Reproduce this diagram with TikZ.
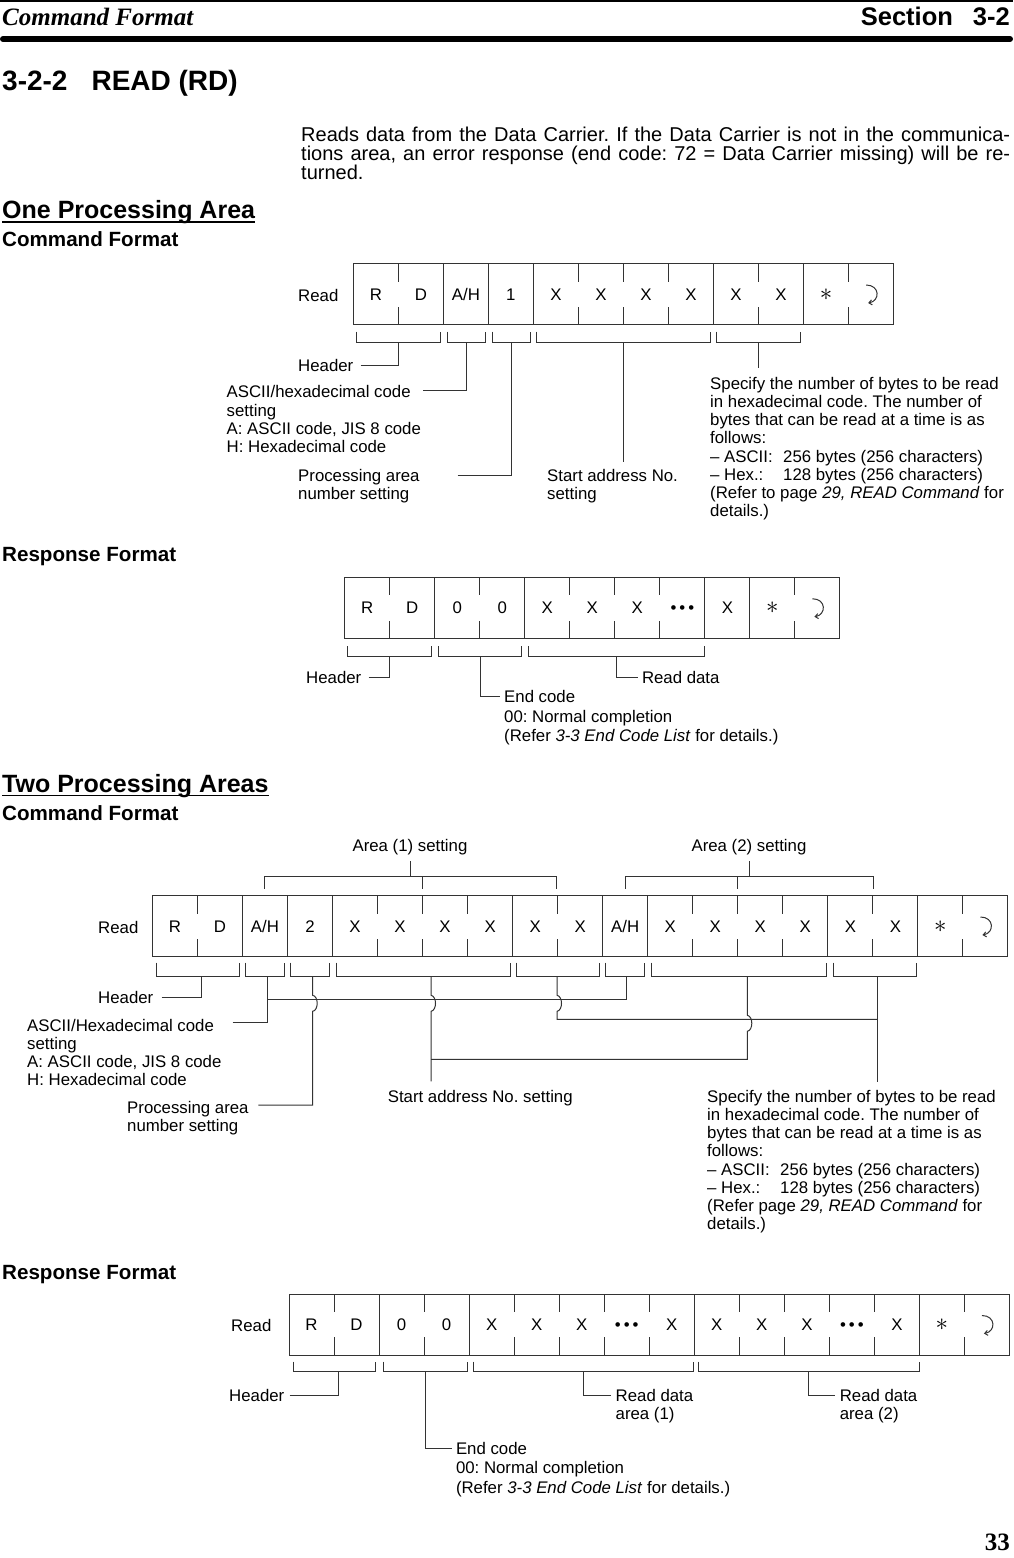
\documentclass[tikz,border=0pt]{standalone}
\usepackage{fontspec}
\setmainfont{Liberation Sans}
\newfontfamily\titleserif{Liberation Serif}
\usetikzlibrary{arrows.meta,calc}
\newcommand\AH{A/H}
\newcommand\Ast{{\fontsize{26}{26}\selectfont$\ast$}}
\newcommand\Dots{\textbullet\hspace{3pt}\textbullet\hspace{3pt}\textbullet}
\tikzset{
  ln/.style={line width=1pt,draw=black!80},
  cell/.style={font=\fontsize{16.8}{18}\selectfont,inner sep=0pt,text height=12pt,text depth=0pt},
  lbl/.style={font=\fontsize{16.8}{18.2}\selectfont,inner sep=0pt,align=left},
  lblw/.style={lbl,anchor=west,text height=12pt,text depth=0pt},
  lblnw/.style={lbl,anchor=north west},
  endblk/.style={font=\fontsize{16.8}{19.2}\selectfont,inner sep=0pt,align=left,anchor=north west},
  head/.style={font=\bfseries\fontsize{25}{28}\selectfont,inner sep=0pt,anchor=base west},
  subhead/.style={font=\bfseries\fontsize{20.6}{24}\selectfont,inner sep=0pt,anchor=base west},
  retarr/.style={ln,-{Straight Barb[length=3pt,width=5pt]}},
}
% prefix, x0, ytop, ybot, number of cells, list label/separator (1 full, 0 tick, 2 none)
\newcommand\cellrow[6]{%
  \draw[ln] (#2,#3) rectangle ({#2+45.03*#5},#4);
  \foreach \lab/\septype [count=\i] in {#6}{%
    \pgfmathsetmacro\xa{#2+45.03*(\i-1)}%
    \pgfmathsetmacro\xb{#2+45.03*\i}%
    \node[cell] (#1\i) at ({(\xa+\xb)/2},{(#3+#4)/2}) {\lab};%
    \ifnum\septype=1 \draw[ln] (\xb,#3) -- (\xb,#4);\fi
    \ifnum\septype=0 \draw[ln] (\xb,#3) -- ++(0,18) (\xb,#4) -- ++(0,-18);\fi
  }%
}
\newcommand\brk[4]{\draw[ln] (#1,#3) |- (#2,#4) -- (#2,#3);}
\newcommand\retarrow[1]{\draw[retarr] ($(#1)+(-5,-9)$) .. controls ($(#1)+(9,-9)$) and ($(#1)+(9,7)$) .. ($(#1)+(-3,9)$);}
\newcommand\bump[1]{-- ($(#1)+(0,-4)$) .. controls ($(#1)+(6,-3)$) and ($(#1)+(6,11)$) .. ($(#1)+(0,12)$)}
\begin{document}
\frenchspacing
\begin{tikzpicture}[x=1pt,y=-1pt]
\useasboundingbox (0,0) rectangle (1013,1558);
\fill[white] (0,0) rectangle (1013,1558);
% page header
\draw[line width=1.5pt] (0,1) -- (1013,1);
\node[font=\titleserif\bfseries\itshape\fontsize{25}{26}\selectfont,anchor=base west,inner sep=0pt] (pghead) at (2,25) {Command Format};
\node[font=\bfseries\fontsize{25.5}{27}\selectfont,anchor=base east,inner sep=0pt] (sect) at (1010,25) {Section\hspace{20pt}3-2};
\draw[line width=6pt,line cap=round] (3,39) -- (1010,39);
\node[font=\bfseries\fontsize{28}{30}\selectfont,anchor=base west,inner sep=0pt] (title) at (2,90) {3-2-2\hspace{24pt}READ (RD)};
\node[font=\fontsize{20}{19}\selectfont,anchor=north west,inner sep=0pt,align=left] (para) at (301,127) {\makebox[709pt][s]{Reads data from the Data Carrier. If the Data Carrier is not in the communica-}\\\makebox[709pt][s]{tions area, an error response (end code: 72 = Data Carrier missing) will be re-}\\turned.};
% ---------------- One processing area
\node[head] (h1) at (2,218.3) {One Processing Area};
\draw[line width=1.8pt] ([yshift=-3.5pt]h1.base west) -- ([yshift=-3.5pt]h1.base east);
\node[subhead] (h1c) at (2,246) {Command Format};
\cellrow{a-}{353.3}{263.5}{324.5}{12}{R/0,D/1,\AH/1,1/1,X/0,X/0,X/0,X/1,X/0,X/1,\Ast/0,{}/2}
\retarrow{a-12}
\node[lblw] (a-read) at (298,295) {Read};
\brk{356.5}{440.5}{331.5}{342}
\brk{447}{485}{331.5}{342}
\brk{492}{530}{331.5}{342}
\brk{536.5}{710}{331.5}{342}
\brk{716.5}{800}{331.5}{342}
\coordinate (a-s1) at (398.5,342);
\coordinate (a-s2) at (466,342);
\coordinate (a-s3) at (511,342);
\coordinate (a-s4) at (623.3,342);
\coordinate (a-s5) at (758.3,342);
\node[lblw] (a-hdr) at (298,365) {Header};
\draw[ln] ([xshift=7pt]a-hdr.east) -| (a-s1);
\node[lblnw] (a-asc) at (226.5,385.5) {ASCII/hexadecimal code\\setting\\A: ASCII code, JIS 8 code\\H: Hexadecimal code};
\coordinate (a-ascend) at (423,390.5);
\draw[ln] (a-ascend) -| (a-s2);
\node[lblnw] (a-proc) at (298,469) {Processing area\\number setting};
\coordinate (a-procend) at (457.7,475);
\draw[ln] (a-procend) -| (a-s3);
\node[lblnw] (a-start) at (547,469) {Start address No.\\setting};
\draw[ln] (a-s4) -- ([yshift=7pt]a-start.north -| a-s4);
\node[lblnw] (a-spec) at (710,377) {Specify the number of bytes to be read\\in hexadecimal code. The number of\\bytes that can be read at a time is as\\follows:\\\makebox[73pt][l]{-- ASCII:}256 bytes (256 characters)\\\makebox[73pt][l]{-- Hex.:}128 bytes (256 characters)\\(Refer to page \textit{29, READ Command} for\\details.)};
\draw[ln] (a-s5) -- ([yshift=9pt]a-spec.north -| a-s5);
% response
\node[subhead] (h1r) at (2,561) {Response Format};
\cellrow{b-}{344.6}{577}{638.5}{11}{R/0,D/1,0/0,0/1,X/0,X/0,X/0,\Dots/1,X/1,\Ast/0,{}/2}
\retarrow{b-11}
\brk{347.5}{431}{646}{656.5}
\brk{438}{521}{646}{656.5}
\brk{528}{704}{646}{656.5}
\coordinate (b-s1) at (389.5,656.5);
\coordinate (b-s2) at (480,656.5);
\coordinate (b-s3) at (616,656.5);
\node[lblw] (b-hdr) at (306,677) {Header};
\draw[ln] ([xshift=7pt]b-hdr.east) -| (b-s1);
\node[endblk] (b-end) at (504,690.5) {End code\\00: Normal completion\\(Refer \textit{3-3 End Code List} for details.)};
\draw[ln] (b-s2) |- ([xshift=-4pt,yshift=-6.2pt]b-end.north west);
\node[lblw] (b-data) at (641.8,677) {Read data};
\draw[ln] (b-s3) |- ([xshift=-4pt]b-data.west);
% ---------------- Two processing areas
\node[head] (h2) at (2,792) {Two Processing Areas};
\draw[line width=1.8pt] ([yshift=-3.5pt]h2.base west) -- ([yshift=-3.5pt]h2.base east);
\node[subhead] (h2c) at (2,820) {Command Format};
\node[lbl] (c-ar1) at (410,846.7) {Area (1) setting};
\node[lbl] (c-ar2) at (749,846.7) {Area (2) setting};
\coordinate (c-a1l) at (264,876);
\coordinate (c-a1m) at (422.8,876);
\coordinate (c-a1r) at (556.5,876);
\coordinate (c-a2l) at (625.7,876);
\coordinate (c-a2m) at (737,876);
\coordinate (c-a2r) at (873.6,876);
\draw[ln] (c-a1l) -- ++(0,12.5) (c-a1l) -- (c-a1r) -- ++(0,12.5) (c-a1m) -- ++(0,12.5);
\draw[ln] (c-ar1.south |- c-a1l) -- ++(0,-15);
\draw[ln] (c-a2l) -- ++(0,12.5) (c-a2l) -- (c-a2r) -- ++(0,12.5) (c-a2m) -- ++(0,12.5);
\draw[ln] (c-ar2.south |- c-a2l) -- ++(0,-15);
\cellrow{c-}{152.4}{895.5}{956.5}{19}{R/0,D/1,\AH/1,2/1,X/0,X/0,X/0,X/1,X/0,X/1,\AH/1,X/0,X/0,X/0,X/1,X/0,X/1,\Ast/0,{}/2}
\retarrow{c-19}
\node[lblw] (c-read) at (98,927) {Read};
\brk{156}{239}{962.7}{976.7}
\brk{245}{284.5}{962.7}{976.7}
\brk{290.5}{329}{962.7}{976.7}
\brk{336}{510}{962.7}{976.7}
\brk{516}{599}{962.7}{976.7}
\brk{605}{644}{962.7}{976.7}
\brk{651.7}{826}{962.7}{976.7}
\brk{833}{916.5}{962.7}{976.7}
\coordinate (c-s1) at (201,976.7);
\coordinate (c-s2) at (267.7,976.7);
\coordinate (c-s3) at (312.7,976.7);
\coordinate (c-s4) at (431,976.7);
\coordinate (c-s5) at (557,976.7);
\coordinate (c-s6) at (626.7,976.7);
\coordinate (c-s7) at (747.3,976.7);
\coordinate (c-s8) at (877.7,976.7);
\coordinate (c-h1) at (0,999.3);
\coordinate (c-h2) at (0,1019.3);
\coordinate (c-h3) at (0,1059.3);
\node[lblw] (c-hdr) at (98,997.7) {Header};
\draw[ln] ([xshift=8pt]c-hdr.east) -| (c-s1);
\node[lblnw] (c-asc) at (27,1019) {ASCII/Hexadecimal code\\setting\\A: ASCII code, JIS 8 code\\H: Hexadecimal code};
\coordinate (c-ascend) at (232.6,1022.3);
\draw[ln] (c-ascend) -| (c-s2);
\draw[ln] (c-s2 |- c-h1) -| (c-s6);
\node[lblnw] (c-proc) at (127,1100.7) {Processing area\\number setting};
\coordinate (c-procend) at (258.4,1105);
\draw[ln] (c-s3) \bump{c-s3 |- c-h1} |- (c-procend);
\node[lblw] (c-start) at (387.6,1096) {Start address No. setting};
\draw[ln] (c-s4) \bump{c-s4 |- c-h1} -- ([yshift=8.5pt]c-start.north -| c-s4);
\draw[ln] (c-s7) \bump{c-s7 |- c-h2} -- (c-s7 |- c-h3) -- (c-s4 |- c-h3);
\draw[ln] (c-s5) \bump{c-s5 |- c-h1} -- (c-s5 |- c-h2) -- (c-s8 |- c-h2);
\node[lblnw] (c-spec) at (707,1090) {Specify the number of bytes to be read\\in hexadecimal code. The number of\\bytes that can be read at a time is as\\follows:\\\makebox[73pt][l]{-- ASCII:}256 bytes (256 characters)\\\makebox[73pt][l]{-- Hex.:}128 bytes (256 characters)\\(Refer page \textit{29, READ Command} for\\details.)};
\draw[ln] (c-s8) -- ([yshift=8.3pt]c-spec.north -| c-s8);
% response
\node[subhead] (h2r) at (2,1279) {Response Format};
\cellrow{d-}{289}{1294}{1355}{16}{R/0,D/1,0/0,0/1,X/0,X/0,X/0,\Dots/0,X/1,X/0,X/0,X/0,\Dots/0,X/1,\Ast/0,{}/2}
\retarrow{d-16}
\node[lblw] (d-read) at (231,1325) {Read};
\brk{293}{375}{1361.7}{1371.7}
\brk{383.7}{467}{1361.7}{1371.7}
\brk{473}{693.5}{1361.7}{1371.7}
\brk{698.6}{919}{1361.7}{1371.7}
\coordinate (d-s1) at (338.4,1371.7);
\coordinate (d-s2) at (425.5,1371.7);
\coordinate (d-s3) at (583,1371.7);
\coordinate (d-s4) at (808.8,1371.7);
\node[lblw] (d-hdr) at (229,1395) {Header};
\draw[ln] ([xshift=5pt]d-hdr.east) -| (d-s1);
\node[lblnw] (d-rd1) at (615.5,1389) {Read data\\area (1)};
\draw[ln] (d-s3) |- ([xshift=-5pt,yshift=-6pt]d-rd1.north west);
\node[lblnw] (d-rd2) at (839.6,1389) {Read data\\area (2)};
\draw[ln] (d-s4) |- ([xshift=-5pt,yshift=-6pt]d-rd2.north west);
\node[endblk] (d-end) at (455.8,1442.3) {End code\\00: Normal completion\\(Refer \textit{3-3 End Code List} for details.)};
\draw[ln] (d-s2) |- ([xshift=-4pt,yshift=-6.2pt]d-end.north west);
\node[font=\titleserif\bfseries\fontsize{25}{28}\selectfont,anchor=base east,inner sep=0pt] (pgno) at (1010,1550) {33};
\end{tikzpicture}
\end{document}
